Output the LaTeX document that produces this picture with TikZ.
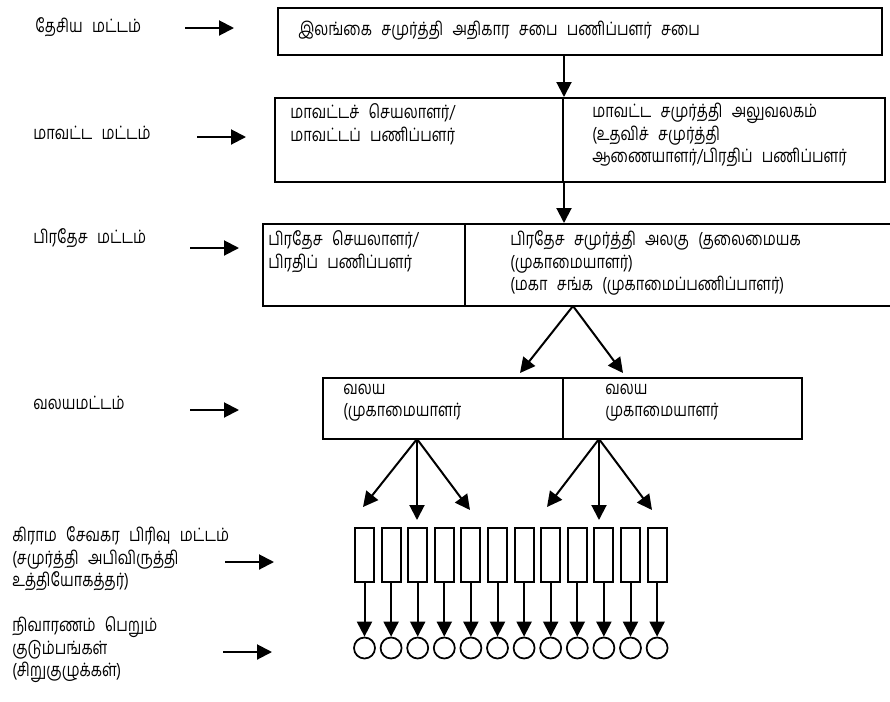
\documentclass[tikz,border=0pt]{standalone}
\usepackage{fontspec}
\setmainfont[Script=Tamil,FakeStretch=0.79,WordSpace=2.6]{Hind Madurai}
\usepackage{tikz}
\usetikzlibrary{arrows.meta,positioning}

\begin{document}
\begin{tikzpicture}[
        cell/.style={
            draw,
            line width=0.4mm,
            inner sep=0pt
        },
        txt/.style={
            inner sep=0pt,
            anchor=west,
            align=left,
            font=\fontsize{10.5}{12.8}\selectfont
        },
        link/.style={
            -{Triangle[length=3mm,width=3mm]},
            line width=0.4mm
        },
        unitbox/.style={
            draw,
            line width=0.4mm,
            minimum width=0.38cm,
            minimum height=1.08cm,
            inner sep=0pt
        },
        home/.style={
            draw,
            circle,
            line width=0.35mm,
            minimum size=0.42cm,
            inner sep=0pt
        }
    ]

                \useasboundingbox (0,0) rectangle (17.8,-14.02);

                % levels
                \node[txt] (lvlnat) at (0.70,-0.54) {தேசிய மட்டம்};
                \node[txt] (lvldist) at (0.66,-2.66) {மாவட்ட மட்டம்};
                \node[txt] (lvldiv) at (0.66,-4.76) {பிரதேச மட்டம்};
                \node[txt] (lvlzone) at (0.66,-8.06) {வலயமட்டம்};
                \node[txt] (lvlgn) at (0.24,-11.18) {கிராம சேவகர பிரிவு மட்டம்\\(சமுர்த்தி அபிவிருத்தி\\உத்தியோகத்தர்)};
                \node[txt] (lvlfam) at (0.24,-13.00) {நிவாரணம் பெறும்\\குடும்பங்கள்\\(சிறுகுழுக்கள்)};

                \coordinate (natA) at (3.70,-0.56);
                \coordinate (distA) at (3.94,-2.74);
                \coordinate (divA) at (3.80,-4.96);
                \coordinate (zoneA) at (3.80,-8.20);
                \coordinate (gnA) at (4.50,-11.24);
                \coordinate (famA) at (4.46,-13.04);
                \foreach \a in {natA,distA,divA,zoneA,gnA,famA}
                    \draw[link] (\a) -- ++(0.98,0);

                % national
                \node[
                    cell,
                    minimum width=12.08cm,
                    minimum height=0.94cm
                ] (council) at (11.6,-0.63) {};
                \node[txt] (councilT) at (5.96,-0.62) {இலங்கை சமுர்த்தி அதிகார சபை பணிப்பளர் சபை};

                % district
                \node[
                    cell,
                    minimum width=5.76cm,
                    minimum height=1.68cm
                ] (distsec) at (8.38,-2.80) {};
                \node[
                    cell,
                    minimum width=6.44cm,
                    minimum height=1.68cm
                ] (distoff) at (14.48,-2.80) {};
                \node[txt] (distsecT) at (5.80,-2.48) {மாவட்டச் செயலாளர்/\\மாவட்டப் பணிப்பளர்};
                \node[txt] (distoffT) at (11.84,-2.70) {மாவட்ட சமுர்த்தி அலுவலகம்\\(உதவிச் சமுர்த்தி\\ஆணையாளர்/பிரதிப் பணிப்பளர்};

                % divisional
                \node[
                    cell,
                    minimum width=4.04cm,
                    minimum height=1.64cm
                ] (divsec) at (7.28,-5.30) {};
                \node[
                    cell,
                    minimum width=8.60cm,
                    minimum height=1.64cm
                ] (divunit) at (13.60,-5.30) {};
                \node[txt] (divsecT) at (5.36,-5.03) {பிரதேச செயலாளர்/\\பிரதிப் பணிப்பளர்};
                \node[txt] (divunitT) at (10.20,-5.26) {பிரதேச சமுர்த்தி அலகு (தலைமையக\\(முகாமையாளர்)\\(மகா சங்க (முகாமைப்பணிப்பாளர்)};

                % zones
                \node[
                    cell,
                    minimum width=4.80cm,
                    minimum height=1.22cm
                ] (zoneL) at (8.86,-8.17) {};
                \node[
                    cell,
                    minimum width=4.78cm,
                    minimum height=1.22cm
                ] (zoneR) at (13.65,-8.17) {};
                \node[txt] (zoneLT) at (6.86,-8.05) {வலய\\(முகாமையாளர்};
                \node[txt] (zoneRT) at (12.10,-8.05) {வலய\\முகாமையாளர்};

                \draw[link] (council.south -| distsec.north east) -- (distsec.north east);
                \draw[link] (distsec.south east) -- (distsec.south east |- divunit.north);

                \coordinate (divsplit) at (11.46,-6.12);
                \draw[link] (divsplit) -- (10.40,-7.46);
                \draw[link] (divsplit) -- (12.46,-7.46);

                % grama niladhari units and families
                \coordinate (zsplitL) at (8.34,-8.78);
                \coordinate (zsplitR) at (11.98,-8.78);
                \draw[link] (zsplitL) -- (7.26,-10.14);
                \draw[link] (zsplitL) -- (8.34,-10.40);
                \draw[link] (zsplitL) -- (9.40,-10.20);
                \draw[link] (zsplitR) -- (10.94,-10.14);
                \draw[link] (zsplitR) -- (11.98,-10.40);
                \draw[link] (zsplitR) -- (13.04,-10.20);

                \foreach \i in {0,...,11} {
                    \node[unitbox] (gn\i) at ({7.29+0.532*\i},-11.10) {};
                    \node[home] (fam\i) at ({7.29+0.532*\i},-12.96) {};
                    \draw[link] (gn\i) -- (fam\i);
                }

\end{tikzpicture}
\end{document}
